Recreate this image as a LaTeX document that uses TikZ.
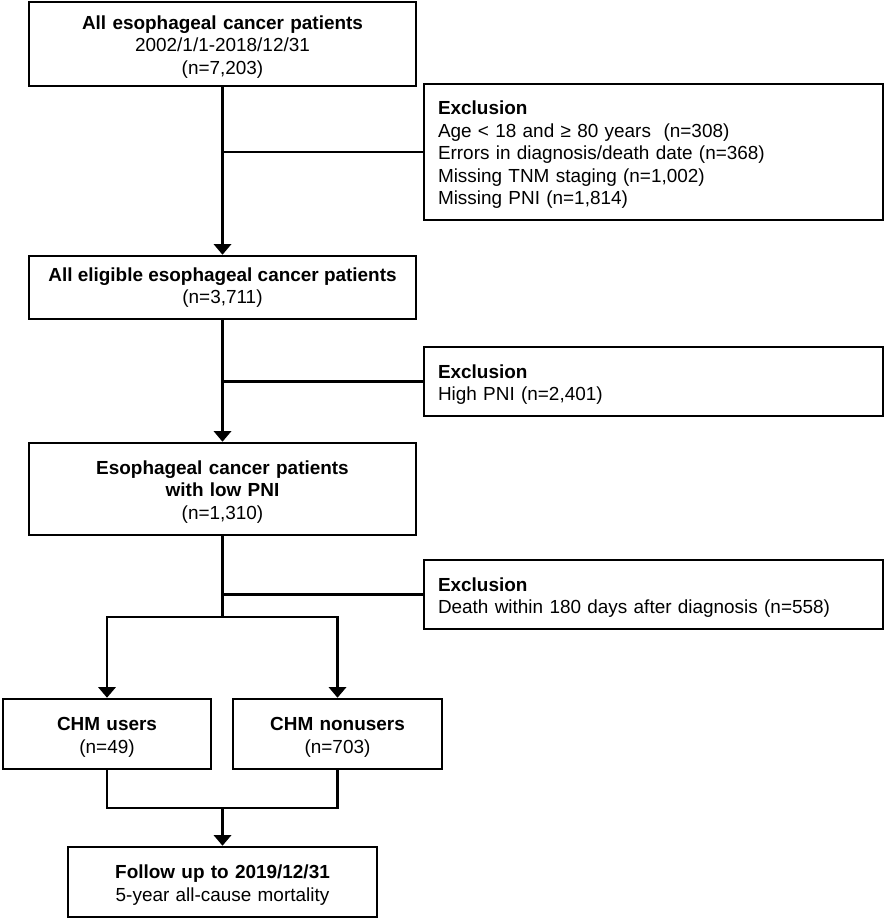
\documentclass[tikz,border=0pt]{standalone}
\usepackage{fontspec}
\setmainfont{Liberation Sans}
\usetikzlibrary{arrows.meta}

\begin{document}
\begin{tikzpicture}[x={(0.75pt,0pt)}, y={(0pt,-0.75pt)}, >={Triangle[length=8pt,width=13pt]},
    every node/.style={font=\fontsize{14.2}{16.9}\selectfont},
    box/.style={draw, line width=1.9pt, align=center, inner sep=0pt},
    excl/.style={draw, line width=1.9pt, align=left, inner xsep=10.5pt, inner ysep=0pt, text width=323.25pt, minimum width=344.25pt},
    lower/.style={execute at begin node={\rule{0pt}{14.8pt}}},
    link/.style={line width=1.9pt}]
    \def\u{0.75pt}
    \useasboundingbox (0,0) rectangle (886,920);

    % Main boxes
    \node[box, lower, text width=290.25pt, minimum height=84*\u] (all) at (222.5,44) {\textbf{All esophageal cancer patients}\\2002/1/1-2018/12/31\\(n=7,203)};
    \node[box, minimum width=387*\u, minimum height=63*\u] (elig) at (222.5,287.5) {\textbf{All eligible esophageal cancer patients}\\(n=3,711)};
    \node[box, lower, text width=290.25pt, minimum height=92*\u] (low) at (222.5,489) {\textbf{Esophageal cancer patients}\\\textbf{with low PNI}\\(n=1,310)};
    \node[box, lower, text width=156pt, minimum height=70*\u] (users) at (107,734) {\textbf{CHM users}\\(n=49)};
    \node[box, lower, text width=156.75pt, minimum height=70*\u] (nonusers) at (337.5,734) {\textbf{CHM nonusers}\\(n=703)};
    \node[box, lower, text width=231.75pt, minimum height=70*\u] (follow) at (222.5,882) {\textbf{Follow up to 2019/12/31}\\5-year all-cause mortality};

    % Exclusions
    \node[excl, lower, minimum height=136*\u] (ex1) at (653.5,152) {\textbf{Exclusion}\\Age < 18 and ≥ 80 years\ \ (n=308)\\Errors in diagnosis/death date (n=368)\\Missing TNM staging (n=1,002)\\Missing PNI (n=1,814)};
    \node[excl, lower, minimum height=69*\u] (ex2) at (653.5,381.5) {\textbf{Exclusion}\\High PNI (n=2,401)};
    \node[excl, lower, minimum height=69*\u] (ex3) at (653.5,594.5) {\textbf{Exclusion}\\Death within 180 days after diagnosis (n=558)};

    % Connectors
    \draw[link, ->] (all) -- (elig);
    \draw[link] (ex1.west) -- (ex1.west -| all.south);
    \draw[link, ->] (elig) -- (low);
    \draw[link] (ex2.west) -- (ex2.west -| elig.south);
    \coordinate (split) at (222.5,617);
    \draw[link] (low) -- (split);
    \draw[link] (ex3.west) -- (ex3.west -| low.south);
    \draw[link, ->] (split) -| (users.north);
    \draw[link, ->] (split) -| (nonusers.north);
    \coordinate (merge) at (222.5,808);
    \draw[link] (users.south) |- (merge) -| (nonusers.south);
    \draw[link, ->] (merge) -- (follow);
\end{tikzpicture}
\end{document}
